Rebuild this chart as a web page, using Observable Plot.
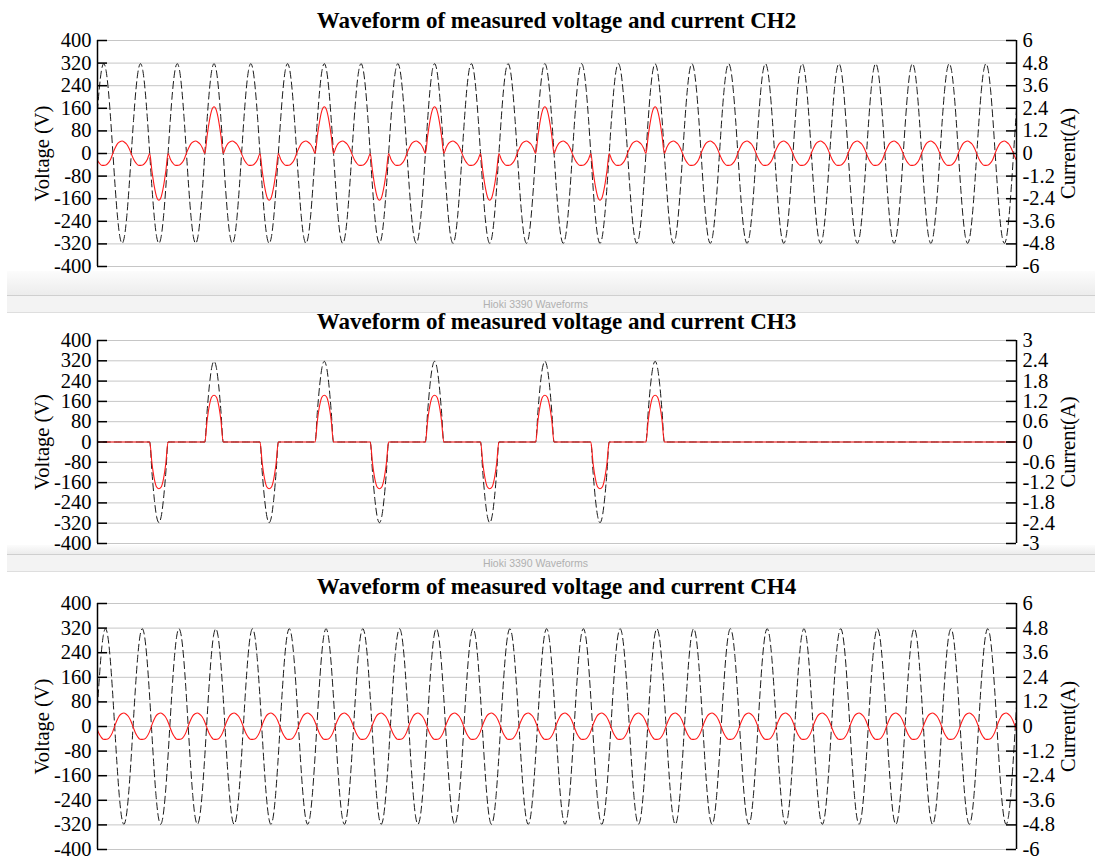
<!DOCTYPE html>
<html>
<head>
<meta charset="utf-8">
<script src="https://cdn.jsdelivr.net/npm/d3@7"></script>
<script src="https://cdn.jsdelivr.net/npm/@observablehq/plot@0.6"></script>
<style>
  body { margin: 0; background: #fff; }
  #root { position: relative; width: 1095px; height: 857px; overflow: hidden; background: #fff; font-family: "Liberation Serif", "Times New Roman", serif; }
  .title { position: absolute; left: 97px; width: 919px; text-align: center; font-weight: bold; font-size: 23px; line-height: 24px; color: #000; white-space: nowrap; }
  .plot { position: absolute; left: 0; }
  .barTop { position: absolute; left: 7px; right: 0; background: linear-gradient(#fcfcfc, #ececec); }
  .barBand { position: absolute; left: 7px; right: 0; box-sizing: border-box; background: #f3f3f3; border-top: 1px solid #cfcfcf; border-bottom: 1px solid #dedede;
             font-family: "Liberation Sans", Arial, sans-serif; font-size: 10.5px; color: #b0b0b0; text-align: center; padding-right: 31px; }
</style>
</head>
<body>
<div id="root"></div>
<script>
// ---------------- data ----------------
const channels = ["CH2", "CH3", "CH4"];
const titles = channels.map(c => "Waveform of measured voltage and current " + c);
const bandLabel = "Hioki 3390 Waveforms";

const timeDomainMs = [0, 500];          // 25 cycles of 50 Hz
const sampleStepMs = 1.25;              // 16 samples per 20 ms cycle

// one cycle of the mains voltage (V), starting at a positive peak
const voltageCycleV = [318, 294, 225, 122, 0, -122, -225, -294, -318, -294, -225, -122, 0, 122, 225, 294];
// one cycle of the small load current (A), same phase origin as the voltage cycle
const loadCurrentCycleA = [-0.63, -0.61, -0.5, -0.3, 0.02, 0.3, 0.52, 0.62, 0.66, 0.6, 0.49, 0.28, -0.02, -0.3, -0.5, -0.62];

// time of the first voltage peak in each panel (ms)
const firstVoltagePeakMs = [3.4, 3.4, 4.35];

// conduction pulses (CH2 and CH3): centres and polarity
const pulseCentersMs = [33.4, 63.4, 93.4, 123.4, 153.4, 183.4, 213.4, 243.4, 273.4, 303.4];
const pulsePolarity  = [-1, 1, -1, 1, -1, 1, -1, 1, -1, 1];
// pulse shapes (A), samples across one half-cycle
const ch3PulseA = [0, 0.64, 1.09, 1.33, 1.38, 1.33, 1.09, 0.64, 0];
const ch2PulseA = [0, 0.95, 1.75, 2.3, 2.48, 2.3, 1.75, 0.95, 0];

// axis ticks
const voltageTicks = [-400, -320, -240, -160, -80, 0, 80, 160, 240, 320, 400];
const currentTicks6 = [-6, -4.8, -3.6, -2.4, -1.2, 0, 1.2, 2.4, 3.6, 4.8, 6];
const currentTicks3 = [-3, -2.4, -1.8, -1.2, -0.6, 0, 0.6, 1.2, 1.8, 2.4, 3];
const currentMaxA = [6, 3, 6];
const currentTicks = [currentTicks6, currentTicks3, currentTicks6];

// ---------------- layout ----------------
const layout = [
  { titleTop: 9,   plotTop: 40,  plotBottom: 266 },
  { titleTop: 310, plotTop: 340, plotBottom: 543 },
  { titleTop: 575, plotTop: 603, plotBottom: 849 }
];
const bars = [
  { top: 271, bandTop: 295, bandBottom: 313 },
  { top: 545, bandTop: 554, bandBottom: 572 }
];

// ---------------- build series ----------------
function pulseAt(t) {
  for (let j = 0; j < pulseCentersMs.length; j++) {
    const d = t - pulseCentersMs[j];
    if (Math.abs(d) <= 5 + 1e-6) return { j, k: Math.round(d / sampleStepMs) + 4 };
  }
  return null;
}
function buildRows(panel) {
  const first = firstVoltagePeakMs[panel];
  const rows = [];
  const i0 = Math.floor((timeDomainMs[0] - first) / sampleStepMs) - 2;
  const i1 = Math.ceil((timeDomainMs[1] - first) / sampleStepMs) + 2;
  for (let i = i0; i <= i1; i++) {
    const t = first + i * sampleStepMs;
    const ph = ((i % 16) + 16) % 16;
    let v = voltageCycleV[ph];
    let a = loadCurrentCycleA[ph];
    const p = channels[panel] === "CH4" ? null : pulseAt(t);
    if (channels[panel] === "CH3") {
      if (p) { a = pulsePolarity[p.j] * ch3PulseA[p.k]; }
      else { v = 0; a = 0; }
    } else if (channels[panel] === "CH2" && p) {
      a = pulsePolarity[p.j] * ch2PulseA[p.k];
    }
    rows.push({ t, v, a });
  }
  return rows;
}

// ---------------- draw ----------------
const root = document.getElementById("root");
const W = 1095, mL = 97, mR = 79, pad = 12, tickLen = 10;
const frameW = W - mL - mR;
const tickFont = 20.5;

// separator bars (behind the charts)
bars.forEach(b => {
  const top = document.createElement("div");
  top.className = "barTop";
  top.style.top = b.top + "px";
  top.style.height = (b.bandTop - b.top) + "px";
  root.appendChild(top);
  const band = document.createElement("div");
  band.className = "barBand";
  band.style.top = b.bandTop + "px";
  band.style.height = (b.bandBottom - b.bandTop) + "px";
  band.style.lineHeight = (b.bandBottom - b.bandTop - 2) + "px";
  band.textContent = bandLabel;
  root.appendChild(band);
});

channels.forEach((ch, p) => {
  const L = layout[p];
  const rows = buildRows(p);
  const k = 400 / currentMaxA[p];

  const title = document.createElement("div");
  title.className = "title";
  title.style.top = L.titleTop + "px";
  title.textContent = titles[p];
  root.appendChild(title);

  const h = (L.plotBottom - L.plotTop) + 2 * pad;
  const chart = Plot.plot({
    width: W, height: h,
    marginLeft: mL, marginRight: mR, marginTop: pad, marginBottom: pad,
    style: { fontFamily: "'Liberation Serif', 'Times New Roman', serif", fontSize: tickFont + "px", color: "#000", background: "transparent", overflow: "visible" },
    x: { domain: timeDomainMs, axis: null },
    y: { domain: [-400, 400], axis: null },
    marks: [
      Plot.ruleY(voltageTicks, { stroke: "#c6c6c6", strokeWidth: 1 }),
      Plot.line(rows, { x: "t", y: "v", stroke: "#1a1a1a", strokeWidth: 1, strokeDasharray: "7,4", curve: "monotone-x", clip: true }),
      Plot.line(rows, { x: "t", y: d => d.a * k, stroke: "#ff1a1a", strokeWidth: 1.1, curve: "monotone-x", clip: true }),
      Plot.ruleX(timeDomainMs, { stroke: "#000", strokeWidth: 1.5 }),
      Plot.tickY(voltageTicks, { y: d => d, insetRight: frameW - tickLen, stroke: "#000", strokeWidth: 1.5 }),
      Plot.text(voltageTicks, { y: d => d, text: d => String(d), frameAnchor: "left", textAnchor: "end", dx: -6, fontSize: tickFont }),
      Plot.tickY(currentTicks[p], { y: a => a * k, insetLeft: frameW - tickLen, stroke: "#000", strokeWidth: 1.5 }),
      Plot.text(currentTicks[p], { y: a => a * k, text: a => String(a), frameAnchor: "right", textAnchor: "start", dx: 6, fontSize: tickFont }),
      Plot.text(["Voltage (V)"], { text: d => d, frameAnchor: "left", textAnchor: "middle", rotate: -90, dx: -55, fontSize: 20.5 }),
      Plot.text(["Current(A)"], { text: d => d, frameAnchor: "right", textAnchor: "middle", rotate: -90, dx: 52, fontSize: 20.5 })
    ]
  });
  chart.classList.add("plot");
  chart.style.top = (L.plotTop - pad) + "px";
  root.appendChild(chart);
});
</script>
</body>
</html>
